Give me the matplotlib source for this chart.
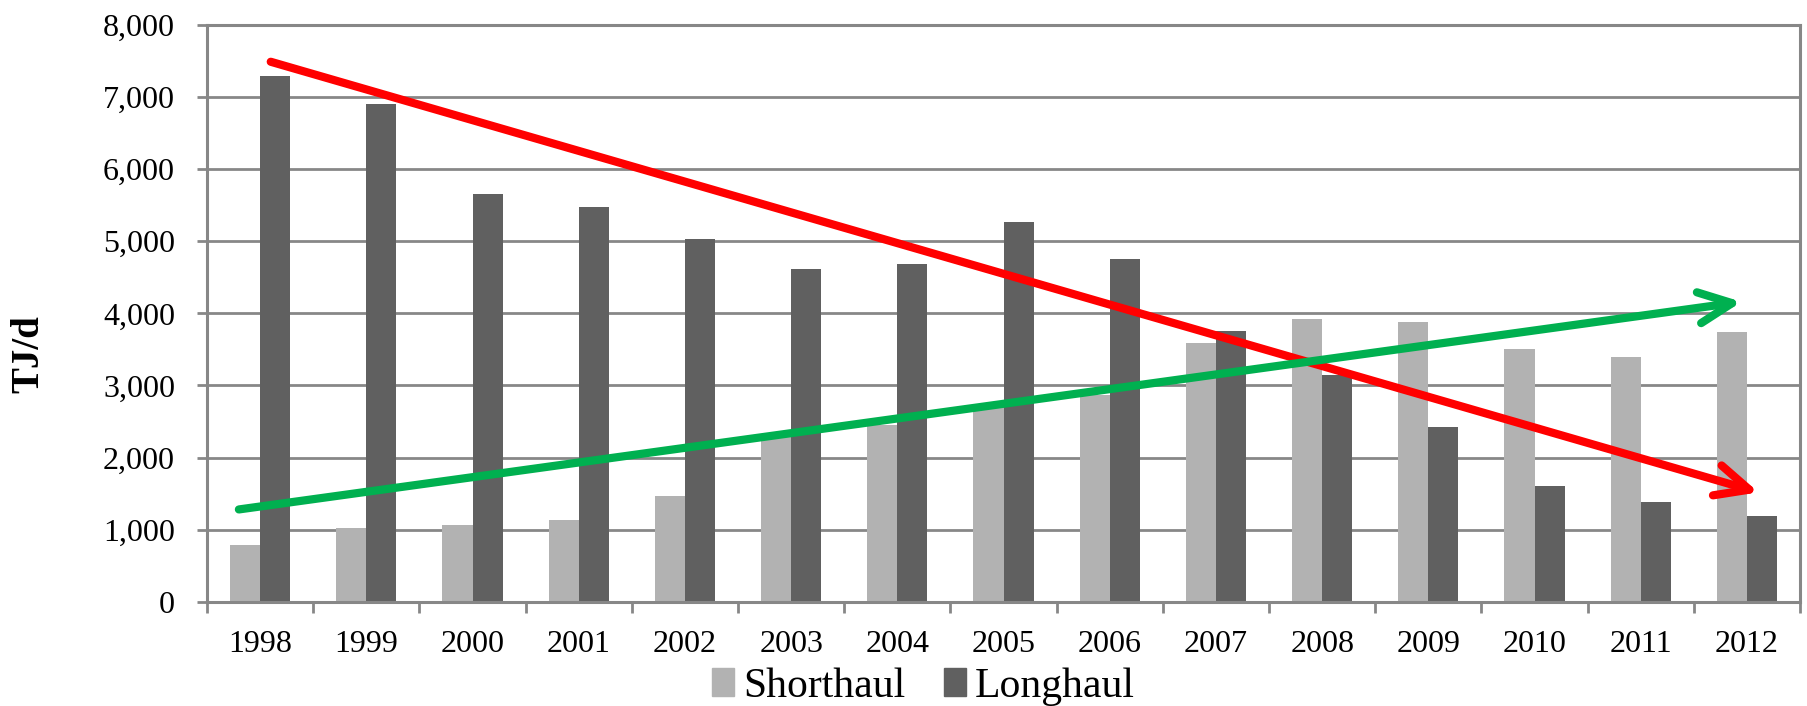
import matplotlib
matplotlib.use("Agg")
import matplotlib.pyplot as plt
import numpy as np
from matplotlib.patches import Patch

# Transport energy use by haul type (TJ/d)
years = ["1998", "1999", "2000", "2001", "2002", "2003", "2004", "2005",
         "2006", "2007", "2008", "2009", "2010", "2011", "2012"]
shorthaul = [790, 1020, 1060, 1130, 1470, 2300, 2450, 2700,
             2870, 3590, 3920, 3880, 3500, 3400, 3740]
longhaul = [7290, 6900, 5660, 5480, 5030, 4620, 4680, 5270,
            4750, 3750, 3150, 2430, 1610, 1380, 1190]

# Trend arrows: (start index, start value) -> (end index, end value)
decline_trend = [(0.10, 7490), (14.11, 1517)]
growth_trend = [(-0.20, 1280), (13.95, 4160)]

plt.rcParams["font.family"] = ["Liberation Serif", "DejaVu Serif"]

fig = plt.figure(figsize=(18.08, 7.06), dpi=100)
ax = fig.add_axes([0.1145, 0.1477, 0.8811, 0.8169])

grid_col = "#878787"
short_col = "#b2b2b2"
long_col = "#606060"

x = np.arange(len(years))
bw = 0.283
ax.bar(x - bw / 2, shorthaul, width=bw, color=short_col, zorder=2)
ax.bar(x + bw / 2, longhaul, width=bw, color=long_col, zorder=2)

ax.set_xlim(-0.5, len(years) - 0.5)
ax.set_ylim(0, 8000)
ax.set_yticks(np.arange(0, 8001, 1000))
ax.set_yticklabels([f"{v:,}" for v in range(0, 8001, 1000)])
ax.yaxis.grid(True, color=grid_col, lw=2.0, zorder=0)
ax.set_axisbelow(True)

ax.set_xticks(x)
ax.set_xticklabels(years)
ax.set_xticks(np.arange(-0.5, len(years), 1.0), minor=True)
ax.tick_params(axis="x", which="major", length=0, pad=20, labelsize=23)
ax.tick_params(axis="x", which="minor", length=8, width=2.0, color=grid_col,
               direction="out")
ax.tick_params(axis="y", length=7, width=2.0, color=grid_col, pad=16,
               labelsize=23, direction="out")

for side in ["left", "right", "bottom", "top"]:
    ax.spines[side].set_color(grid_col)
    ax.spines[side].set_linewidth(2.2)

fig.text(0.0159, 0.4986, "TJ/d", rotation=90, ha="center", va="center",
         fontsize=28, fontweight="bold")

for (x0, y0), (x1, y1), col in [(decline_trend[0], decline_trend[1], "#ff0000"),
                                (growth_trend[0], growth_trend[1], "#00b050")]:
    ax.annotate("", xy=(x1, y1), xytext=(x0, y0),
                arrowprops=dict(arrowstyle="->,head_length=1.2,head_width=0.56",
                                lw=5.9, color=col, shrinkA=0, shrinkB=0,
                                mutation_scale=20, capstyle="round",
                                joinstyle="round"),
                zorder=5)

handles = [Patch(color=short_col, label="Shorthaul"),
           Patch(color=long_col, label="Longhaul")]
fig.legend(handles=handles, loc="center", bbox_to_anchor=(0.5108, 0.0276),
           ncol=2, frameon=False, fontsize=30, handlelength=0.53,
           handleheight=0.65, handletextpad=0.22, columnspacing=0.91,
           borderaxespad=0, borderpad=0)

fig.savefig("out.png", dpi=100)
